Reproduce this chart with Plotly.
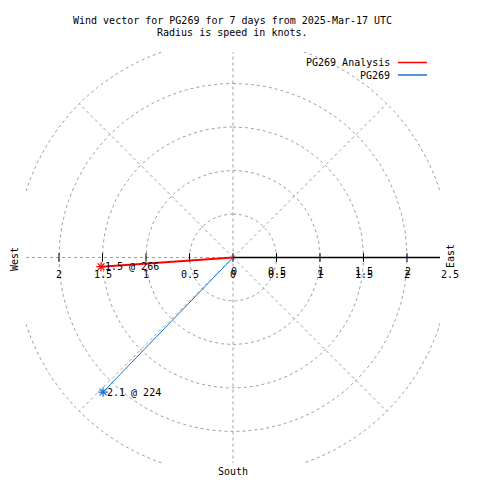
import numpy as np
import plotly.graph_objects as go

# ---- data ----
series_names = ["PG269 Analysis", "PG269"]
series_colors = ["#ff0000", "#1874cd"]
speeds = [1.52, 2.15]          # knots
directions = [266, 224]        # degrees (compass)
grid_radii = [0.5, 1.0, 1.5, 2.0, 2.5]
spoke_angles = [0, 45, 90, 135, 180, 225, 270, 315]
tick_values = [-2, -1.5, -1, -0.5, 0, 0.5, 1, 1.5, 2, 2.5]
tick_labels = ["2", "1.5", "1", "0.5", "0", "0.5", "1", "1.5", "2", "2.5"]
title_lines = ["Wind vector for PG269 for 7 days from 2025-Mar-17 UTC",
               "Radius is speed in knots."]

FONT = dict(family="DejaVu Sans Mono", size=10, color="black")
GRID = dict(color="rgb(160,160,160)", width=1, dash="3px,3px")

OFF = 8  # page body margin
W, H = 472, 472
ML, MR, MT, MB = 18, 40, 44, 17
pw, ph = W - ML - MR, H - MT - MB
ppu = 87.0
xr = pw / ppu / 2
yr = ph / ppu / 2

def px(x):
    return (x - OFF - ML) / pw

def py(y):
    return (H - MB - (y - OFF)) / ph

def xval_to_paper(v):
    return (v + xr) / (2 * xr)

fig = go.Figure()

# grid circles
t = np.linspace(0, 2 * np.pi, 721)
for r in grid_radii:
    fig.add_trace(go.Scatter(x=r * np.sin(t), y=r * np.cos(t), mode="lines",
                             line=GRID, hoverinfo="skip", showlegend=False))
# spokes
rmax = max(grid_radii)
for a in spoke_angles:
    ar = np.deg2rad(a)
    fig.add_trace(go.Scatter(x=[0, rmax * np.sin(ar)], y=[0, rmax * np.cos(ar)],
                             mode="lines", line=GRID, hoverinfo="skip", showlegend=False))

# black east axis line and ticks
fig.add_trace(go.Scatter(x=[0, rmax], y=[0, 0], mode="lines",
                         line=dict(color="black", width=1.3), hoverinfo="skip", showlegend=False))
tx, ty = [], []
for v in tick_values:
    if abs(v) < 2.4:
        tx += [v, v, None]
        ty += [-0.05, 0.05, None]
fig.add_trace(go.Scatter(x=tx, y=ty, mode="lines", line=dict(color="black", width=1),
                         hoverinfo="skip", showlegend=False))

# wind vectors
for name, col, s, d, w in zip(series_names, series_colors, speeds, directions, [2, 1]):
    ar = np.deg2rad(d)
    x, y = s * np.sin(ar), s * np.cos(ar)
    fig.add_trace(go.Scatter(x=[0, x], y=[0, y], mode="lines",
                             line=dict(color=col, width=w), name=name, showlegend=False))
    fig.add_trace(go.Scatter(x=[x], y=[y], mode="markers",
                             marker=dict(symbol="asterisk-open", size=8, color=col,
                                         line=dict(color=col, width=1.2)),
                             showlegend=False))
    fig.add_annotation(x=x, y=y, text=f"{int(s * 10) / 10:.1f} @ {d}", showarrow=False,
                       xanchor="left", yanchor="middle", xshift=2, font=FONT)

# tick labels
for v, lab in zip(tick_values, tick_labels):
    fig.add_annotation(x=xval_to_paper(v), xref="paper", y=0, yref="y", text=lab,
                       showarrow=False, xanchor="center",
                       yanchor="middle", yshift=-17, font=FONT)
    if 0 <= v <= 2:
        fig.add_annotation(x=xval_to_paper(v), xref="paper", y=0, yref="y", text=lab,
                           showarrow=False, xanchor="center",
                           yanchor="middle", yshift=-14, xshift=0.5, font=FONT)

# compass labels
fig.add_annotation(x=px(15), y=py(259), xref="paper", yref="paper", text="West",
                   textangle=-90, showarrow=False, font=FONT,
                   xanchor="center", yanchor="middle")
fig.add_annotation(x=px(451), y=py(256), xref="paper", yref="paper", text="East",
                   textangle=-90, showarrow=False, font=FONT,
                   xanchor="center", yanchor="middle")
fig.add_annotation(x=px(233), y=py(471), xref="paper", yref="paper", text="South",
                   showarrow=False, font=FONT, xanchor="center", yanchor="middle")

# title
for i, line in enumerate(title_lines):
    fig.add_annotation(x=px(232), y=py(20 + 13 * i), xref="paper", yref="paper",
                       text=line, showarrow=False, font=FONT,
                       xanchor="center", yanchor="middle")

# legend (text then line, right aligned)
for i, (name, col) in enumerate(zip(series_names, series_colors)):
    yy = 62.5 + 12.5 * i
    fig.add_annotation(x=px(392), y=py(yy), xref="paper", yref="paper", text=name,
                       showarrow=False, xanchor="right", yanchor="middle", font=FONT)
    fig.add_shape(type="line", xref="paper", yref="paper", x0=px(398), x1=px(427),
                  y0=py(yy), y1=py(yy), line=dict(color=col, width=1.5))

fig.update_layout(
    width=W, height=H, margin=dict(l=ML, r=MR, t=MT, b=MB),
    paper_bgcolor="white", plot_bgcolor="white", showlegend=False,
    hovermode=False,
    xaxis=dict(range=[-xr, xr], visible=False, fixedrange=True),
    yaxis=dict(range=[-yr, yr], visible=False, fixedrange=True),
)
fig.write_html("out.html")
